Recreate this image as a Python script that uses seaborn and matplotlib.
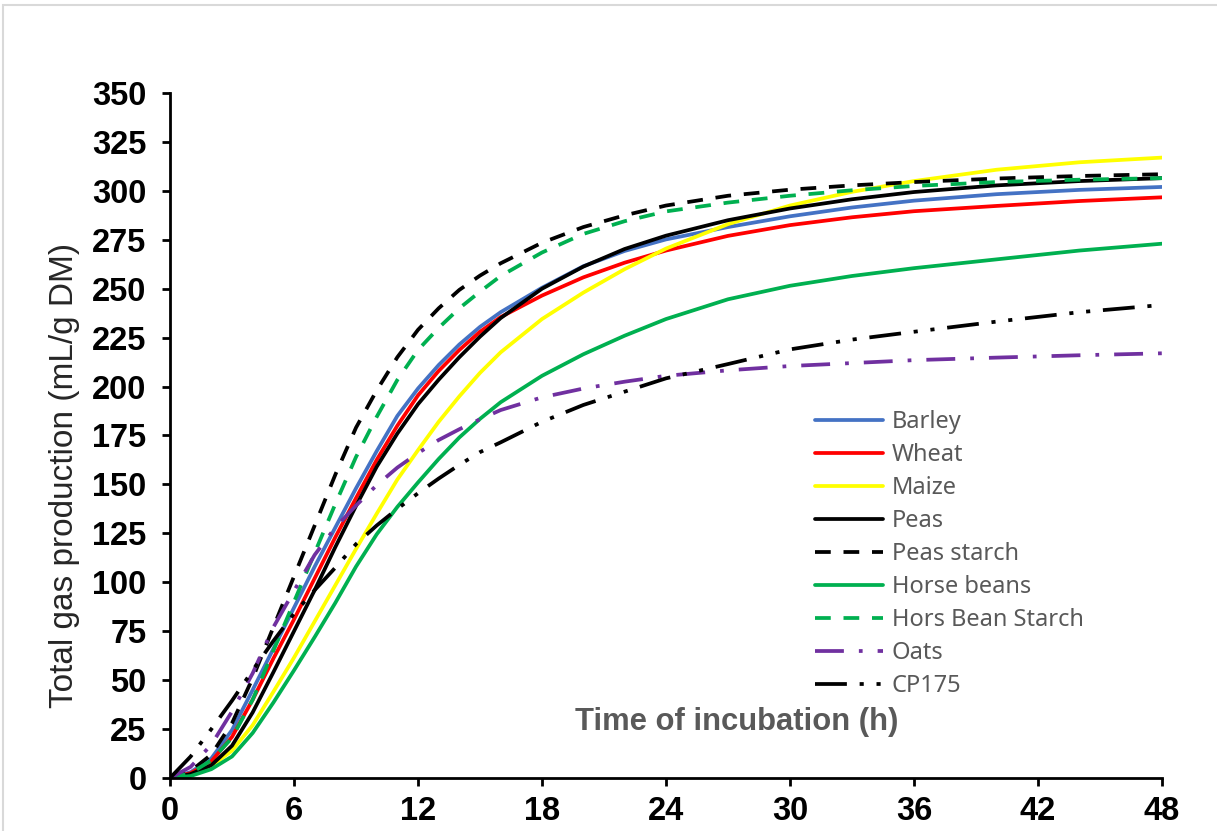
import matplotlib
matplotlib.use("Agg")
import matplotlib.pyplot as plt
import seaborn as sns
from matplotlib.patches import Rectangle

# incubation times (h) and gas production (mL/g DM)
times = [0, 1, 2, 3, 4, 5, 6, 7, 8, 9, 10, 11, 12, 13, 14, 15, 16, 18, 20, 22, 24, 27, 30, 33, 36, 40, 44, 48]

barley = [0, 3, 10, 24.5, 45, 66, 87, 108, 128, 148, 167, 185, 199, 211, 221.5, 230.5, 238, 250.5, 261.5, 269.3,
          275.2, 281.5, 287, 291.5, 295, 298.3, 300.5, 302]
wheat = [0, 2.5, 8.5, 21, 40, 61, 81, 102, 123, 143, 162.5, 180, 195.5, 208, 218.7, 228, 235.5, 246.5, 255.8, 263.3,
         269.5, 277, 282.5, 286.5, 289.6, 292.3, 294.8, 296.7]
maize = [0, 1.5, 6, 14, 27, 44, 61.5, 80, 98.5, 117, 135, 152.5, 167.5, 182, 195, 207, 217.5, 234.5, 248, 260,
         270.5, 283, 292.5, 299.5, 305, 310.8, 314.6, 317]
peas = [0, 2, 6.5, 16.5, 33.5, 54, 75, 96, 118, 139, 159, 176, 191, 203.5, 215, 225.5, 235, 250, 261.3, 270.3,
        277.1, 285, 291, 295.7, 299.4, 302.8, 305, 306.5]
peas_starch = [0, 3.5, 12, 28, 51, 77, 103, 129, 155, 179, 198, 215, 229, 240, 249.4, 256.7, 263, 273.5, 281.5, 287.5,
               292.5, 297.5, 300.6, 302.8, 304.5, 306.3, 307.6, 308.5]
horse_beans = [0, 1, 4.5, 11, 23, 38.5, 55, 72, 89.5, 108, 124.5, 138.5, 151, 163, 174, 183.5, 192, 205.5, 216.5, 226,
               234.5, 244.6, 251.5, 256.5, 260.5, 265, 269.5, 273]
hb_starch = [0, 2.5, 9, 20.5, 40, 65, 90, 115, 140, 164, 184.5, 203.4, 218.7, 230, 240, 248.5, 256.5, 268.5, 278, 284.5,
             289.5, 294, 297.5, 300.3, 302.5, 304.5, 305.7, 306.5]
oats = [0, 5.7, 17, 34, 53.5, 77, 95.6, 114, 128, 139.2, 149.6, 158.6, 166, 172.7, 178.2, 183.3, 188, 194.5, 199, 202.5,
        205.5, 208.3, 210.5, 212, 213.5, 214.8, 216, 217]
cp175 = [0, 11, 25, 39.5, 55, 70, 84, 96, 107.5, 119.5, 129, 137.5, 145.5, 153, 160, 166.5, 171.5, 182, 190.6, 197.4,
         204.2, 211.5, 219, 224, 228, 233.2, 238, 241.7]

labels = ['Barley', 'Wheat', 'Maize', 'Peas', 'Peas starch', 'Horse beans', 'Hors Bean Starch', 'Oats', 'CP175']
series = [barley, wheat, maize, peas, peas_starch, horse_beans, hb_starch, oats, cp175]
colors = ['#4472C4', '#FF0000', '#FFFF00', '#000000', '#000000', '#00B050', '#00B050', '#7030A0', '#000000']
dashes = [None, None, None, None, (4.2, 3.4), None, (4.2, 3.4), (7.7, 4.0, 1.0, 4.0),
          (8.5, 3.4, 1.1, 3.4, 1.1, 3.4)]

sns.set_style("ticks")
plt.rcParams['font.family'] = ['Liberation Sans', 'DejaVu Sans']

fig = plt.figure(figsize=(12.17, 8.31), dpi=100)
ax = fig.add_axes([170 / 1217, 1 - 778 / 831, (1162 - 170) / 1217, (778 - 93) / 831])

lines = []
for vals, lab, col, dsh in zip(series, labels, colors, dashes):
    sns.lineplot(x=times, y=vals, ax=ax, color=col, linewidth=2.7, legend=False)
    ln = ax.get_lines()[-1]
    if dsh is not None:
        ln.set_dashes(dsh)
    ln.set_label(lab)
    lines.append(ln)

ax.set_xlim(0, 48)
ax.set_ylim(0, 350)
ax.set_xticks(range(0, 49, 6))
ax.set_yticks(range(0, 351, 25))
ax.set_xlabel('')
ax.set_ylabel('')

for side in ['top', 'right']:
    ax.spines[side].set_visible(False)
for side in ['left', 'bottom']:
    ax.spines[side].set_linewidth(2.0)
    ax.spines[side].set_color('black')

ax.tick_params(axis='both', direction='out', length=6, width=2.0, colors='black')
ax.tick_params(axis='x', pad=7)
ax.tick_params(axis='y', pad=11)
for lbl in ax.get_xticklabels() + ax.get_yticklabels():
    lbl.set_fontweight('bold')
    lbl.set_fontsize(23.5)

# axis titles
ax.text(27.4, 28.6, 'Time of incubation (h)', fontsize=22.3, fontweight='bold', color='#595959',
        ha='center', va='center')
fig.text(65 / 1217, 1 - 475 / 831, 'Total gas production (mL/g DM)', fontsize=24, color='#262626',
         rotation=90, ha='center', va='center')

leg = ax.legend(handles=lines, loc='upper left', bbox_to_anchor=(815 / 1217, 1 - 410 / 831),
                bbox_transform=fig.transFigure, frameon=False, borderpad=0, borderaxespad=0,
                handlelength=2.9, handletextpad=0.35, labelspacing=0.38,
                prop={'family': ['Noto Sans', 'DejaVu Sans'], 'size': 17})
for t in leg.get_texts():
    t.set_color('#595959')

# light frame around the chart area
fig.patches.append(Rectangle((3 / 1217, -0.05), 1.1, 1 - 5 / 831 + 0.05, transform=fig.transFigure,
                             fill=False, edgecolor='#D9D9D9', linewidth=1.5, zorder=0))

fig.savefig('out.png', dpi=100)
